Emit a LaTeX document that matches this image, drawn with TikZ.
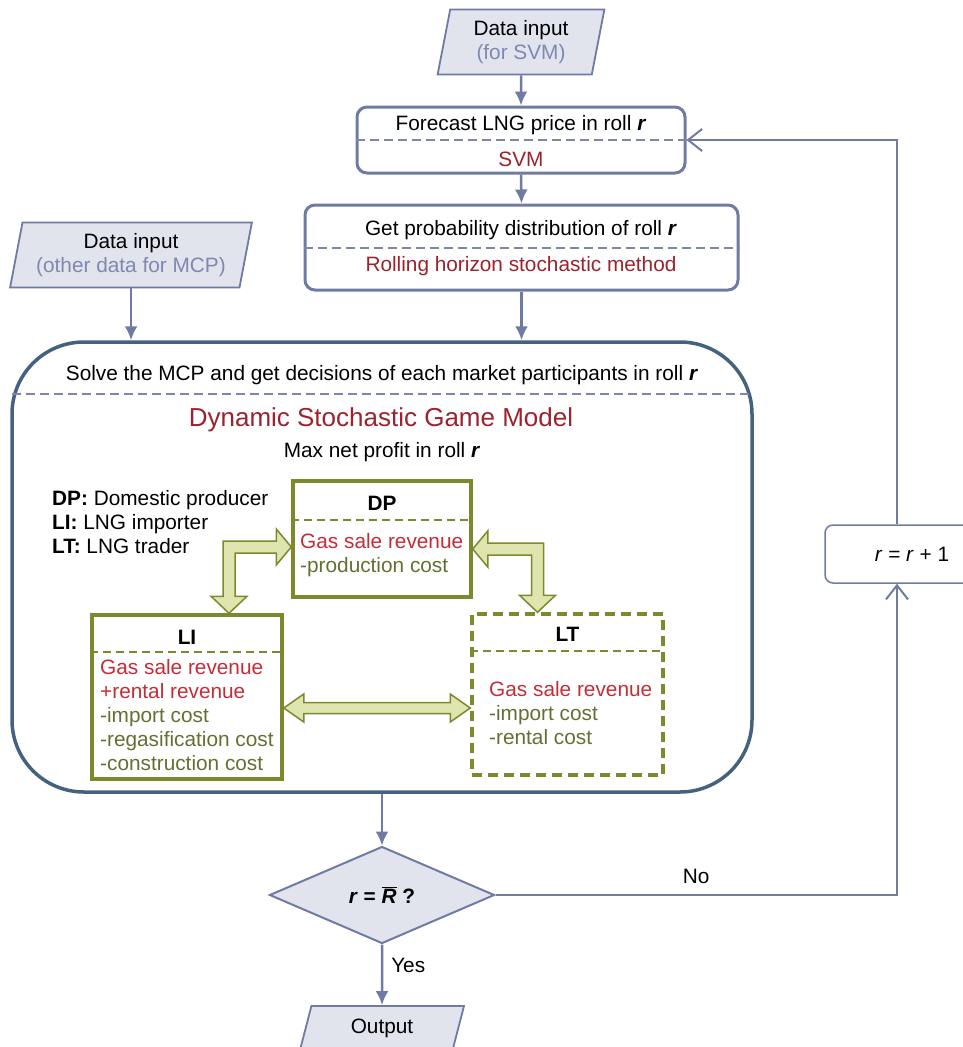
\documentclass[tikz,border=0pt]{standalone}
\usepackage{fontspec}
\setmainfont{Liberation Sans}
\usetikzlibrary{positioning,shapes.geometric,arrows.meta,calc}
\definecolor{flowc}{RGB}{111,123,163}
\definecolor{inputc}{RGB}{225,228,237}
\definecolor{subc}{RGB}{127,136,176}
\definecolor{methodc}{RGB}{155,35,45}
\definecolor{revc}{RGB}{196,45,55}
\definecolor{costc}{RGB}{98,112,50}
\definecolor{olivec}{RGB}{125,137,44}
\definecolor{fatc}{RGB}{224,229,176}
\definecolor{gamec}{RGB}{68,97,127}
\definecolor{sepc}{RGB}{126,134,174}
\tikzset{
flow/.style={draw=flowc, line width=2.5pt, -{Latex[length=14pt,width=13pt]}},
loopline/.style={draw=flowc, line width=2pt, -{Straight Barb[length=14pt,width=22pt]}},
datain/.style={trapezium, trapezium left angle=79, trapezium right angle=101, trapezium stretches=true, draw=flowc, line width=1.8pt, fill=inputc, align=center, inner sep=0pt},
stepbox/.style={rectangle, rounded corners=10pt, draw=flowc, line width=3pt, fill=white},
sep/.style={draw=sepc, line width=2pt, dash pattern=on 9pt off 5pt},
agent/.style={rectangle, draw=olivec, line width=3.5pt},
gsep/.style={draw=olivec, line width=2pt, dash pattern=on 8pt off 5pt},
fat/.style={draw=olivec, line width=1.5pt, fill=fatc, line join=miter},
txt/.style={anchor=west, align=left, inner sep=0pt}
}
\newcommand{\basefont}{\fontsize{20.8}{24}\selectfont}
\newcommand{\rr}{\textbf{\textit{r}}}
\newcommand{\fatelbow}[3]{\draw[fat] (#1) -- ($(#1)+(-15*#3,-18)$) -- ($(#1)+(-15*#3,-6)$) -- ($(#2|-#1)+(-6*#3,-6)$) -- ($(#2)+(-6*#3,-17)$) -- ($(#2)+(-18*#3,-17)$) -- (#2) -- ($(#2)+(18*#3,-17)$) -- ($(#2)+(6*#3,-17)$) -- ($(#2|-#1)+(6*#3,6)$) -- ($(#1)+(-15*#3,6)$) -- ($(#1)+(-15*#3,18)$) -- cycle;}
\newcommand{\fatboth}[2]{\draw[fat] (#1) -- ($(#1)+(20,-14)$) -- ($(#1)+(20,-5.5)$) -- ($(#2)+(-20,-5.5)$) -- ($(#2)+(-20,-14)$) -- (#2) -- ($(#2)+(-20,14)$) -- ($(#2)+(-20,5.5)$) -- ($(#1)+(20,5.5)$) -- ($(#1)+(20,14)$) -- cycle;}

\begin{document}
\begin{tikzpicture}[x=1pt,y=-1pt,font=\basefont]
\useasboundingbox (0,0) rectangle (962,1047);

\node[datain, minimum width=167pt, minimum height=65pt] (insvm) at (521,42) {Data input\\\textcolor{subc}{(for SVM)}};
\node[stepbox, minimum width=328pt, minimum height=66pt] (fc) at (521,140) {};
\node (fct) at (521,125) {Forecast LNG price in roll \rr};
\draw[sep] (fc.west) -- (fc.east);
\node[text=methodc] (fcm) at (521,159) {SVM};

\node[stepbox, minimum width=433pt, minimum height=85pt] (pd) at (521.5,247.5) {};
\node (pdt) at (521,230) {Get probability distribution of roll \rr};
\draw[sep] (pd.west) -- (pd.east);
\node[text=methodc] (pdm) at (521,266) {Rolling horizon stochastic method};

\node[datain, trapezium left angle=76, trapezium right angle=104, minimum width=242pt, minimum height=65pt] (inmcp) at (131,255) {Data input\\\textcolor{subc}{(other data for MCP)}};

\node[draw=gamec, line width=3.5pt, rounded corners=72pt, minimum width=740pt, minimum height=450pt] (game) at (382,567) {};
\draw[sep] ($(game.north west)+(2,54)$) -- ($(game.north east)+(-2,54)$);
\node (solve) at (382,375) {Solve the MCP and get decisions of each market participants in roll \rr};
\node[text=methodc, font=\fontsize{26}{30}\selectfont] (dsgm) at (381,420) {Dynamic Stochastic Game Model};
\node (maxp) at (382,452) {Max net profit in roll \rr};
\node[txt] (legend) at (52,522) {\textbf{DP:} Domestic producer\\\textbf{LI:} LNG importer\\\textbf{LT:} LNG trader};

\node[agent, minimum width=178pt, minimum height=116pt] (dp) at (382,539) {};
\node[font=\basefont\bfseries] (dpt) at (382,503) {DP};
\draw[gsep] ($(dp.north west)+(0,41)$) -- ($(dp.north east)+(0,41)$);
\node[txt] (dpx) at (300,555.5) {\textcolor{revc}{Gas sale revenue}\\\textcolor{costc}{-production cost}};

\node[agent, minimum width=190pt, minimum height=164pt] (li) at (187,697) {};
\node[font=\basefont\bfseries] (lit) at (187,637) {LI};
\draw[gsep] ($(li.north west)+(0,39)$) -- ($(li.north east)+(0,39)$);
\node[txt] (lix) at (100,715) {\textcolor{revc}{Gas sale revenue}\\\textcolor{revc}{+rental revenue}\\\textcolor{costc}{-import cost}\\\textcolor{costc}{-regasification cost}\\\textcolor{costc}{-construction cost}};

\node[agent, dash pattern=on 10pt off 6pt, minimum width=191pt, minimum height=161pt] (lt) at (567.5,694.5) {};
\node[font=\basefont\bfseries] (ltt) at (567.5,634) {LT};
\draw[gsep] ($(lt.north west)+(0,39)$) -- ($(lt.north east)+(0,39)$);
\node[txt] (ltx) at (489,713) {\textcolor{revc}{Gas sale revenue}\\\textcolor{costc}{-import cost}\\\textcolor{costc}{-rental cost}};

\coordinate (dpL) at ($(dp.west)+(0,8)$);
\coordinate (liT) at ($(li.north)+(42,0)$);
\coordinate (dpR) at ($(dp.east)+(0,10)$);
\coordinate (ltT) at ($(lt.north)+(-30,0)$);
\coordinate (liR) at ($(li.east)+(0,11)$);
\coordinate (ltL) at (lt.west |- liR);
\fatelbow{dpL}{liT}{1}
\fatelbow{dpR}{ltT}{-1}
\fatboth{liR}{ltL}

\node[diamond, draw=flowc, line width=2pt, fill=inputc, minimum width=225pt, minimum height=97pt, inner sep=0pt] (dec) at (382,895) {\textbf{\textit{r} = $\overline{\mbox{\textbf{\textit{R}}}}$ ?}};
\node[datain, trapezium left angle=75, trapezium right angle=105, minimum width=165pt, minimum height=44pt] (out) at (382,1028) {Output};
\node[draw=flowc, line width=1.5pt, rounded corners=8pt, minimum width=174pt, minimum height=58pt] (inc) at (912,554) {\textit{r} = \textit{r} + 1};
\coordinate (lx) at (897,0);

\draw[flow] (insvm.south) -- (fc.north);
\draw[flow] (fc.south) -- (pd.north);
\draw[flow] (pd.south) -- (pd.south |- game.north);
\draw[flow] (inmcp.south) -- (inmcp.south |- game.north);
\draw[flow] (game.south) -- (dec.north);
\draw[flow] (dec.south) -- node[right, pos=0.35, inner sep=8pt] {Yes} (out.north);
\draw[loopline] (dec.east) -- node[above, inner sep=10pt] {No} (dec.east -| lx) -- (inc.south -| lx);
\draw[loopline] (inc.north -| lx) |- (fc.east);
\end{tikzpicture}
\end{document}
